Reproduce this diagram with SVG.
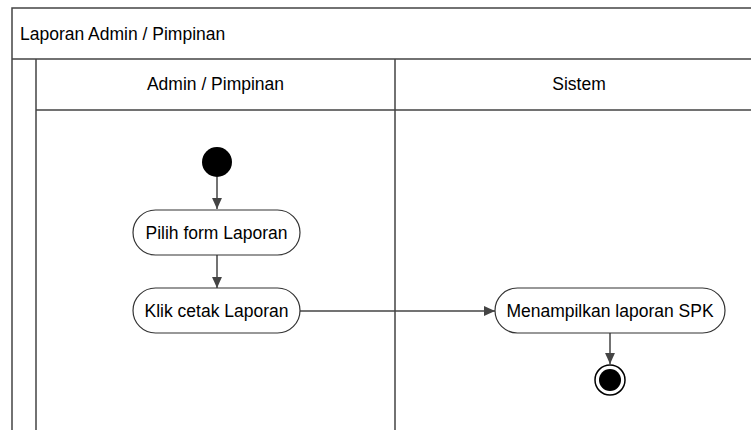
<svg xmlns="http://www.w3.org/2000/svg" width="751" height="430" viewBox="0 0 751 430">
<style>
.frame{fill:none;stroke:#444;stroke-width:1.5}
.node{fill:#fff;stroke:#333;stroke-width:1.2}
.txt{font-family:"Liberation Sans",Arial,sans-serif;font-size:17.5px;fill:#000}
.edge{fill:none;stroke:#444;stroke-width:1.5}
</style>
<defs>
<marker id="arr" viewBox="0 0 10 10" refX="10" refY="5" markerWidth="11" markerHeight="11" markerUnits="userSpaceOnUse" orient="auto">
<path d="M0,0.5 L10,5 L0,9.5 Z" fill="#444"/>
</marker>
</defs>
<rect x="0" y="0" width="751" height="430" fill="#fff"/>
<g id="pool">
<path class="frame" d="M12,440 V8 H770 M12,59 H770 M36,440 V59 M36,110 H770 M395,59 V440"/>
<text class="txt" x="20" y="40">Laporan Admin / Pimpinan</text>
</g>
<g id="lane-admin">
<text class="txt" x="215.5" y="90" text-anchor="middle">Admin / Pimpinan</text>
</g>
<g id="lane-sistem">
<text class="txt" x="579" y="90" text-anchor="middle">Sistem</text>
</g>
<g id="connectors">
<line class="edge" x1="217" y1="177" x2="217" y2="209" marker-end="url(#arr)"/>
<line class="edge" x1="217" y1="255" x2="217" y2="288" marker-end="url(#arr)"/>
<line class="edge" x1="300" y1="311" x2="495" y2="311" marker-end="url(#arr)"/>
<line class="edge" x1="610" y1="333" x2="610" y2="364" marker-end="url(#arr)"/>
</g>
<g id="start">
<circle cx="217" cy="162" r="15" fill="#000"/>
</g>
<g id="pilih">
<rect class="node" x="133" y="210" width="167" height="45" rx="22.5"/>
<text class="txt" x="216.5" y="238.5" text-anchor="middle">Pilih form Laporan</text>
</g>
<g id="klik">
<rect class="node" x="133" y="288" width="167" height="45" rx="22.5"/>
<text class="txt" x="216.5" y="316.5" text-anchor="middle">Klik cetak Laporan</text>
</g>
<g id="menampilkan">
<rect class="node" x="495" y="288" width="230" height="45" rx="22.5"/>
<text class="txt" x="610" y="316.5" text-anchor="middle">Menampilkan laporan SPK</text>
</g>
<g id="end">
<circle cx="610" cy="380" r="15" fill="#fff" stroke="#000" stroke-width="1.5"/>
<circle cx="610" cy="380" r="11" fill="#000"/>
</g>
</svg>
